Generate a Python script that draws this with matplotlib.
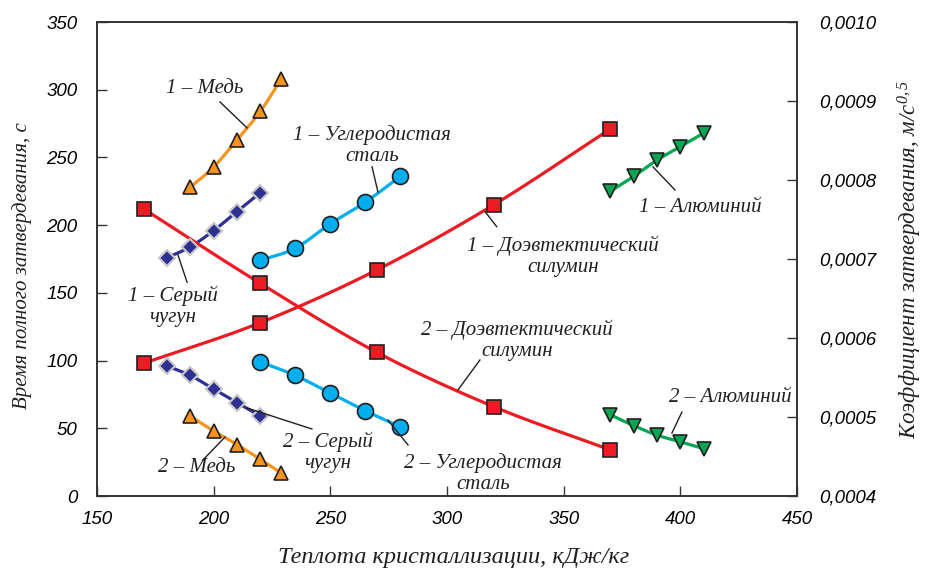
import numpy as np
import matplotlib
matplotlib.use("Agg")
import matplotlib.pyplot as plt
from matplotlib.ticker import FuncFormatter
from matplotlib.font_manager import FontProperties

# ---- data ----
cu_x = [190, 200, 210, 220, 229]
cu1_y = [228, 243, 263, 284, 308]
cu2_y = [59, 48, 38, 27, 17]

fe_x = [180, 190, 200, 210, 220]
fe1_y = [176, 184, 196, 210, 224]
fe2_y = [96, 89, 79, 69, 59]

st_x = [220, 235, 250, 265, 280]
st1_y = [174, 183, 201, 217, 236]
st2_y = [99, 89, 76, 63, 51]

si_x = [170, 220, 270, 320, 370]
si1_y = [98, 128, 167, 215, 271]
si2_y = [212, 157, 106, 66, 34]

al_x = [370, 380, 390, 400, 410]
al1_y = [225, 236, 248, 258, 268]
al2_y = [60, 52, 45, 40, 35]

x_ticks = [150, 200, 250, 300, 350, 400, 450]
y_ticks = [0, 50, 100, 150, 200, 250, 300, 350]
r_ticks = [0.0004, 0.0005, 0.0006, 0.0007, 0.0008, 0.0009, 0.0010]

x_title = "Теплота кристаллизации, кДж/кг"
y_title = "Время полного затвердевания, с"
r_title = r"Коэффициент затвердевания, м/с$^{\mathregular{0,5}}$"

ORANGE = "#F7941D"
NAVY = "#2E3192"
CYAN = "#00AEEF"
RED = "#ED1C24"
GREEN = "#00A651"
INK = "#231F20"

SERIF = "Liberation Serif"
SANS = "Liberation Sans"

plt.rcParams["mathtext.fontset"] = "custom"
plt.rcParams["mathtext.rm"] = "Liberation Serif"
plt.rcParams["mathtext.it"] = "Liberation Serif:italic"


def smooth(x, y, n=30):
    """Catmull-Rom curve through the given points (for drawing only)."""
    p = np.column_stack([x, y]).astype(float)
    p = np.vstack([2 * p[0] - p[1], p, 2 * p[-1] - p[-2]])
    out = []
    t = np.linspace(0, 1, n)[:, None]
    for i in range(1, len(p) - 2):
        p0, p1, p2, p3 = p[i - 1], p[i], p[i + 1], p[i + 2]
        seg = 0.5 * ((2 * p1) + (-p0 + p2) * t + (2 * p0 - 5 * p1 + 4 * p2 - p3) * t ** 2
                     + (-p0 + 3 * p1 - 3 * p2 + p3) * t ** 3)
        out.append(seg)
    c = np.vstack(out)
    return c[:, 0], c[:, 1]


fig = plt.figure(figsize=(9.29, 5.70), dpi=100)
ax = fig.add_axes([0.1044, 0.1298, 0.7535, 0.8316])

def series(x, y, color, marker, ms, mec=INK, mew=1.2):
    sx, sy = smooth(x, y)
    ax.plot(sx, sy, color=color, lw=2.3, solid_capstyle="round", zorder=2)
    ax.plot(x, y, ls="none", marker=marker, ms=ms, mfc=color, mec=mec, mew=mew, zorder=3)

series(cu_x, cu1_y, ORANGE, "^", 9.5)
series(cu_x, cu2_y, ORANGE, "^", 9.5)
series(fe_x, fe1_y, NAVY, "D", 8.5, mec="#C8C8C8", mew=1.5)
series(fe_x, fe2_y, NAVY, "D", 8.5, mec="#C8C8C8", mew=1.5)
series(st_x, st1_y, CYAN, "o", 11.5)
series(st_x, st2_y, CYAN, "o", 11.5)
series(si_x, si1_y, RED, "s", 10)
series(si_x, si2_y, RED, "s", 10)
series(al_x, al1_y, GREEN, "v", 9.5)
series(al_x, al2_y, GREEN, "v", 9.5)

ax.set_xlim(150, 450)
ax.set_ylim(0, 350)
ax.set_xticks(x_ticks)
ax.set_yticks(y_ticks)

for lab in ax.get_xticklabels() + ax.get_yticklabels():
    lab.set_fontproperties(FontProperties(family=SANS, style="italic", size=13.5))
ax.tick_params(axis="both", direction="in", length=7, width=1, color="#333333", top=False, right=False)
ax.tick_params(axis="x", pad=11)
ax.tick_params(axis="y", pad=14)
for s in ax.spines.values():
    s.set_linewidth(1.2)
    s.set_color("#333333")

ax2 = ax.twinx()
ax2.set_ylim(0.0004, 0.0010)
ax2.set_yticks(r_ticks)
ax2.yaxis.set_major_formatter(FuncFormatter(lambda v, p: f"{v:.4f}".replace(".", ",")))
for lab in ax2.get_yticklabels():
    lab.set_fontproperties(FontProperties(family=SANS, style="italic", size=13.5))
ax2.tick_params(axis="y", direction="in", length=7, width=1, color="#333333", pad=16)
for s in ax2.spines.values():
    s.set_linewidth(1.2)
    s.set_color("#333333")

ax.text(0.51, -0.129, x_title, transform=ax.transAxes, ha="center", va="center",
        fontproperties=FontProperties(family=SERIF, style="italic", size=17.5), color=INK)
ax.text(-0.107, 0.485, y_title, transform=ax.transAxes, ha="center", va="center",
        rotation=90, fontproperties=FontProperties(family=SERIF, style="italic", size=15), color=INK)
ax.text(1.161, 0.50, r_title, transform=ax.transAxes, ha="center", va="center",
        rotation=90, fontproperties=FontProperties(family=SERIF, style="italic", size=16.5), color=INK)

# ---- annotations ----
ann_fp = FontProperties(family=SERIF, style="italic", size=15)

def label(text, tx, ty, x1, y1, x2, y2):
    ax.text(tx, ty, text, zorder=5, fontproperties=ann_fp, ha="center", va="center",
            color=INK, linespacing=1.15)
    ax.plot([x1, x2], [y1, y2], color=INK, lw=1.0, zorder=4)

label("1 – Медь", 196.3, 301, 202.7, 291, 214.3, 271.8)
label("1 – Углеродистая\nсталь", 268, 259, 267.9, 243, 270.4, 224.5)
label("1 – Серый\nчугун", 182.6, 140, 188.6, 157.9, 184.7, 178)
label("1 – Доэвтектический\nсилумин", 349.7, 177, 321.3, 198.9, 316.3, 210)
label("2 – Доэвтектический\nсилумин", 330, 115, 314.1, 100.4, 304.7, 78.3)
label("1 – Алюминий", 408.4, 213.4, 388.3, 243, 397.7, 226)
label("2 – Алюминий", 421.3, 73, 400.7, 62, 396.4, 46.5)
label("2 – Серый\nчугун", 249, 32, 242.1, 49.5, 214.3, 65)
label("2 – Медь", 192.9, 21.4, 195.4, 26.6, 204.9, 43.6)
label("2 – Углеродистая\nсталь", 315.4, 16.5, 283.3, 37.7, 274.7, 56)

fig.savefig("out.png", dpi=100)
